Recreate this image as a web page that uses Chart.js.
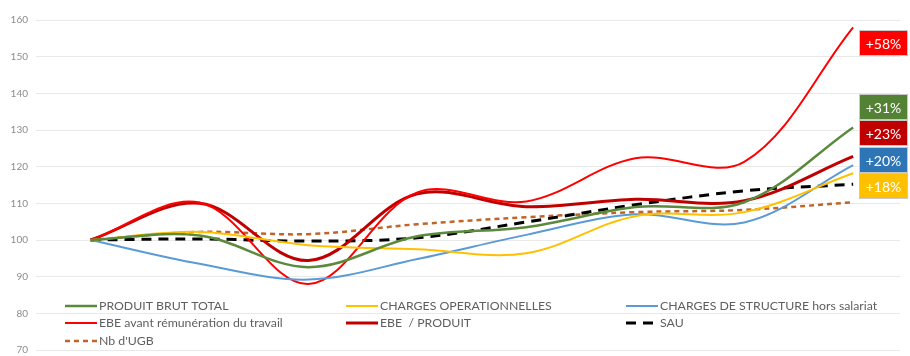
<!DOCTYPE html>
<html>
<head>
<meta charset="utf-8">
<script src="https://cdn.jsdelivr.net/npm/chart.js@4.4.0/dist/chart.umd.min.js"></script>
<style>
  html, body { margin: 0; padding: 0; background: #fff; }
  #wrap { width: 910px; height: 356px; }
</style>
</head>
<body>
<div id="wrap"><canvas id="myChart" width="910" height="356"></canvas></div>
<script>
// 8 années (pas de libellés affichés sur l'axe)
var categories = ['1', '2', '3', '4', '5', '6', '7', '8'];

var produitBrut = [100, 101.2, 92.6, 101, 103.5, 109, 110.3, 130.7];
var chargesOp = [100, 102.2, 98.6, 97.5, 96.4, 106.5, 107.6, 118.2];
var chargesStruct = [100, 93.5, 89.2, 94.8, 101.4, 107, 104.8, 120.4];
var ebeAvant = [100, 110.2, 88, 113, 110.5, 122.3, 121.3, 158];
var ebeProduit = [100, 110, 94.4, 112.6, 109.1, 111.1, 110.7, 122.8];
var sau = [100, 100.3, 99.7, 100.6, 104.9, 109.6, 113.4, 115.2];
var nbUgb = [100, 102.2, 101.6, 104.3, 106.2, 107.6, 108.2, 110.3];

var yTicks = [70, 80, 90, 100, 110, 120, 130, 140, 150, 160];

var labelsFin = ['+58%', '+31%', '+23%', '+20%', '+18%'];

function pts(arr) {
    return arr.map(function(v, i) { return {x: i, y: v}; });
}

/*légende dans la zone du graphe*/
var legendePlugin = {
    id: 'legendeBas',
    afterDraw: function(chart) {
        var ctx = chart.ctx;
        var cols = [65, 346, 626];
        var rows = [306, 323, 341];
        ctx.save();
        ctx.font = '12.3px Lato';
        ctx.textBaseline = 'middle';
        ctx.fillStyle = '#5f5f5f';
        chart.data.datasets.forEach(function(ds, i) {
            var x = cols[i % 3], y = rows[Math.floor(i / 3)];
            ctx.beginPath();
            ctx.strokeStyle = ds.borderColor;
            ctx.lineWidth = ds.borderWidth;
            ctx.setLineDash(ds.borderDash || []);
            ctx.moveTo(x, y);
            ctx.lineTo(x + 32, y);
            ctx.stroke();
            ctx.setLineDash([]);
            ctx.fillText(ds.label, x + 34, y);
        });
        ctx.restore();
    }
};

/*étiquettes de variation à droite*/
var etiquettesPlugin = {
    id: 'etiquettes',
    afterDraw: function(chart) {
        var ctx = chart.ctx;
        var couleurs = ['#ff0000', '#548235', '#c00000', '#2e75b6', '#ffc000'];
        var tops = [30, 94, 120, 147, 173];
        ctx.save();
        ctx.font = '14px Lato';
        ctx.textAlign = 'center';
        ctx.textBaseline = 'middle';
        labelsFin.forEach(function(t, i) {
            ctx.fillStyle = couleurs[i];
            ctx.fillRect(859, tops[i], 49, 26);
            ctx.strokeStyle = '#c8c8c8';
            ctx.lineWidth = 1;
            ctx.strokeRect(859.5, tops[i] + 0.5, 48, 25);
            ctx.fillStyle = '#ffffff';
            ctx.fillText(t, 883.5, tops[i] + 14);
        });
        ctx.restore();
    }
};

var ctx = document.getElementById("myChart").getContext('2d');
var myChart = new Chart(ctx, {
    type: 'line',
    data: {
        datasets: [
            {label: 'PRODUIT BRUT TOTAL', data: pts(produitBrut), borderColor: '#5b8a3c', borderWidth: 2.5},
            {label: 'CHARGES OPERATIONNELLES', data: pts(chargesOp), borderColor: '#ffc000', borderWidth: 2},
            {label: 'CHARGES DE STRUCTURE hors salariat', data: pts(chargesStruct), borderColor: '#5b9bd5', borderWidth: 2},
            {label: 'EBE avant rémunération du travail', data: pts(ebeAvant), borderColor: '#ff0000', borderWidth: 2},
            {label: 'EBE  / PRODUIT', data: pts(ebeProduit), borderColor: '#c00000', borderWidth: 3},
            {label: 'SAU', data: pts(sau), borderColor: '#000000', borderWidth: 3, borderDash: [10, 7]},
            {label: "Nb d'UGB", data: pts(nbUgb), borderColor: '#c0652a', borderWidth: 2.5, borderDash: [5, 4]}
        ]
    },
    options: {
        responsive: false,
        animation: false,
        elements: {
            point: { radius: 0 },
            line: { tension: 0.35, fill: false }
        },
        layout: {
            padding: { left: 0, right: 10, top: 20, bottom: 6 }
        },
        plugins: {
            legend: { display: false },
            tooltip: { enabled: false }
        },
        scales: {
            x: {
                type: 'linear',
                display: false,
                min: -0.5,
                max: 7.43
            },
            y: {
                min: 70,
                max: 160,
                afterFit: function(scale) {
                    scale.width = 36;
                    scale.paddingTop = 0;
                    scale.paddingBottom = 0;
                },
                afterBuildTicks: function(scale) {
                    scale.ticks = yTicks.map(function(v) { return {value: v}; });
                },
                border: { display: false },
                grid: { color: '#e9e9e9', drawTicks: false },
                ticks: {
                    padding: 8,
                    color: '#8c8c8c',
                    font: { family: 'Lato', size: 10 }
                }
            }
        }
    },
    plugins: [legendePlugin, etiquettesPlugin]
});
</script>
</body>
</html>
